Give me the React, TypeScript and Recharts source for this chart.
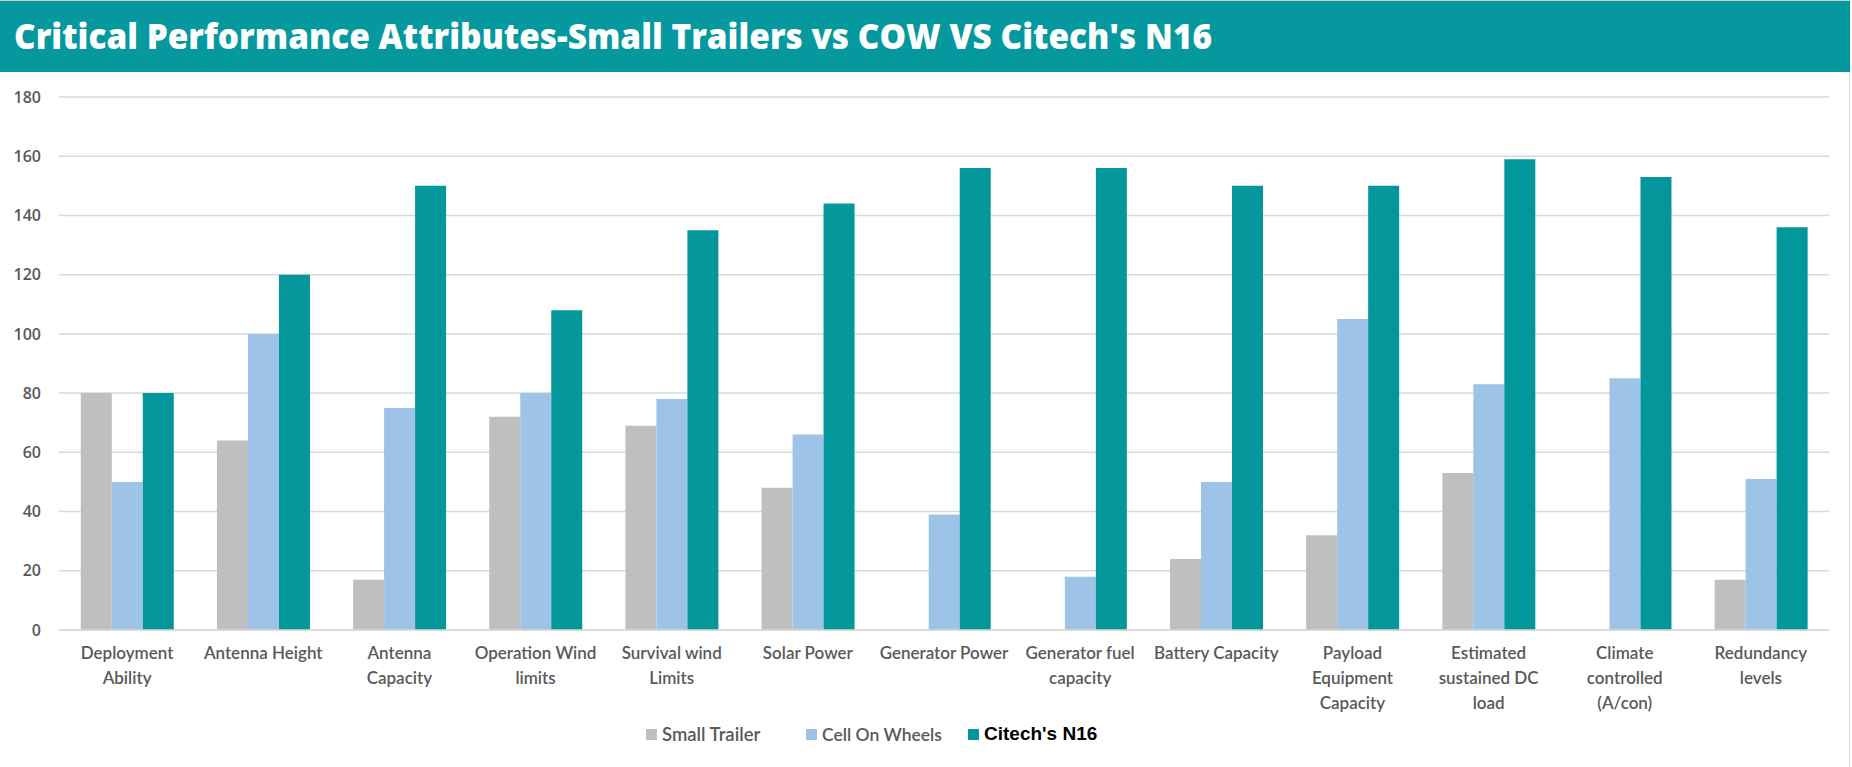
import { Bar, BarChart, CartesianGrid, XAxis, YAxis } from "recharts";

const categories = [
  "Deployment\nAbility",
  "Antenna Height",
  "Antenna\nCapacity",
  "Operation Wind\nlimits",
  "Survival wind\nLimits",
  "Solar Power",
  "Generator Power",
  "Generator fuel\ncapacity",
  "Battery Capacity",
  "Payload\nEquipment\nCapacity",
  "Estimated\nsustained DC\nload",
  "Climate\ncontrolled\n(A/con)",
  "Redundancy\nlevels",
];

const smallTrailer = [80, 64, 17, 72, 69, 48, 0, 0, 24, 32, 53, 0, 17];
const cellOnWheels = [50, 100, 75, 80, 78, 66, 39, 18, 50, 105, 83, 85, 51];
const citechN16 = [80, 120, 150, 108, 135, 144, 156, 156, 150, 150, 159, 153, 136];

const yTicks = [0, 20, 40, 60, 80, 100, 120, 140, 160, 180];

const data = categories.map((name, i) => ({
  name,
  smallTrailer: smallTrailer[i],
  cellOnWheels: cellOnWheels[i],
  citechN16: citechN16[i],
}));

const TEAL = "#03979c";
const LABEL_FONT = "Lato, 'Open Sans', sans-serif";

function CategoryTick(props: any) {
  const { x, y, payload } = props;
  const lines = String(payload.value).split("\n");
  return (
    <text
      x={x}
      y={y + 21}
      textAnchor="middle"
      fill="#595959"
      fontFamily={LABEL_FONT}
      fontSize={17}
      fontWeight={600}
    >
      {lines.map((line, i) => (
        <tspan key={i} x={x} dy={i === 0 ? 0 : 25}>
          {line}
        </tspan>
      ))}
    </text>
  );
}

// legend drawn outside the chart so it does not eat into the plot height
const legendItems = [
  { label: "Small Trailer", color: "#bfbfbf", text: "#595959", font: LABEL_FONT, weight: 600, size: 18.5, left: 646 },
  { label: "Cell On Wheels", color: "#9dc3e6", text: "#595959", font: LABEL_FONT, weight: 600, size: 17.5, left: 806 },
  { label: "Citech's N16", color: TEAL, text: "#000000", font: "'Liberation Sans', Arial, sans-serif", weight: 700, size: 19, left: 968 },
];

export default function App() {
  return (
    <div
      style={{
        position: "absolute",
        left: 0,
        top: 0,
        width: 1852,
        height: 767,
        background: "#ffffff",
        overflow: "hidden",
      }}
    >
      <svg width={1850} height={72} style={{ display: "block" }}>
        <rect x={0} y={0} width={1850} height={72} fill="#05989e" />
        <rect x={0} y={0} width={1850} height={1} fill="#cfcfcf" />
        <text
          x={14}
          y={49}
          fill="#ffffff"
          fontFamily="'Open Sans', sans-serif"
          fontWeight={800}
          fontSize={36}
          textLength={1198}
          lengthAdjust="spacingAndGlyphs"
        >
          Critical Performance Attributes-Small Trailers vs COW VS Citech's N16
        </text>
      </svg>
      <div style={{ position: "absolute", left: 1849, top: 72, width: 1, height: 695, background: "#d9d9d9" }} />
      <div style={{ position: "absolute", top: 72, left: 0 }}>
        <BarChart
          width={1852}
          height={695}
          data={data}
          margin={{ top: 25, right: 23, bottom: 0, left: 0 }}
          barCategoryGap="16%"
          barGap={0}
        >
          <CartesianGrid vertical={false} stroke="#d9d9d9" strokeWidth={1.5} />
          <XAxis
            dataKey="name"
            interval={0}
            axisLine={{ stroke: "#d9d9d9", strokeWidth: 1.5 }}
            tickLine={false}
            height={137}
            tick={<CategoryTick />}
          />
          <YAxis
            domain={[0, 180]}
            ticks={yTicks}
            width={59}
            axisLine={false}
            tickLine={false}
            tickMargin={12}
            tick={{ fill: "#595959", fontSize: 16, fontWeight: 600, fontFamily: "'Open Sans', sans-serif" }}
          />
          <Bar dataKey="smallTrailer" name="Small Trailer" fill="#bfbfbf" isAnimationActive={false} />
          <Bar dataKey="cellOnWheels" name="Cell On Wheels" fill="#9dc3e6" isAnimationActive={false} />
          <Bar dataKey="citechN16" name="Citech's N16" fill={TEAL} isAnimationActive={false} />
        </BarChart>
      </div>
      {legendItems.map((it) => (
        <div
          key={it.label}
          style={{ position: "absolute", left: it.left, top: 722, height: 24, display: "flex", alignItems: "center" }}
        >
          <span style={{ width: 11, height: 11, background: it.color, marginRight: 5, display: "inline-block" }} />
          <span style={{ color: it.text, fontFamily: it.font, fontWeight: it.weight, fontSize: it.size }}>{it.label}</span>
        </div>
      ))}
    </div>
  );
}
